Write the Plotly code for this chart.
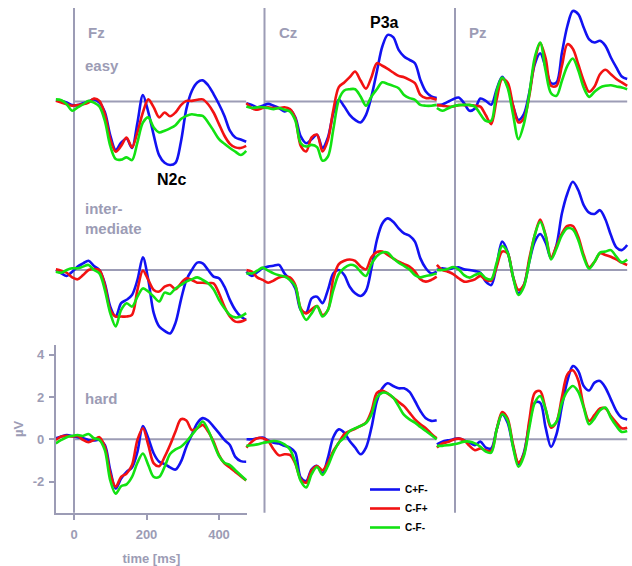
import plotly.graph_objects as go

# ---------------- data (µV) ----------------
TIME = [-50, -35, -20, -5, 10, 25, 40, 55, 70, 85, 100, 115, 130, 145, 160, 175, 190, 205,
        220, 235, 250, 265, 280, 295, 310, 325, 340, 355, 370, 385, 400, 415, 430, 445, 460, 475]

CONDITIONS = ["C+F-", "C-F+", "C-F-"]
ELECTRODES = ["Fz", "Cz", "Pz"]
LEVELS = ["easy", "inter-<br>mediate", "hard"]

FZ_EASY_B = [0.06,0.03,-0.05,-0.17,-0.17,-0.08,0.0,0.1,-0.05,-0.5,-1.6,-2.3,-1.95,-1.75,-2.2,-1.0,0.3,-0.5,-1.6,-2.55,-2.9,-3.0,-2.9,-1.9,-0.35,0.5,0.9,1.0,0.77,0.35,-0.13,-0.68,-1.38,-1.7,-1.8,-1.9]
FZ_EASY_R = [0.03,-0.05,-0.13,-0.2,-0.17,-0.13,-0.05,0.14,0.03,-0.6,-1.78,-2.37,-2.1,-1.7,-2.17,-1.45,-0.52,0.1,-0.28,-0.75,-0.52,-0.7,-0.52,-0.17,0.03,0.03,0.08,0.1,-0.13,-0.52,-1.07,-1.62,-2.0,-2.17,-2.2,-2.1]
FZ_EASY_G = [0.1,0.06,-0.13,-0.44,-0.28,-0.13,0.03,-0.05,-0.24,-0.91,-2.1,-2.72,-2.75,-2.64,-2.77,-1.93,-1.0,-0.75,-1.23,-1.46,-1.38,-1.27,-1.12,-0.83,-0.68,-0.6,-0.65,-0.68,-0.99,-1.38,-1.78,-2.0,-2.2,-2.37,-2.53,-2.33]

FZ_INT_B = [0.0,-0.16,-0.28,-0.08,0.16,0.31,0.44,0.19,0.0,-0.63,-1.73,-2.2,-1.57,-1.41,-1.18,-0.47,0.6,-0.47,-2.04,-2.67,-2.88,-3.0,-2.5,-1.41,-0.47,0.0,0.35,0.31,0.0,-0.31,-0.39,-0.79,-1.41,-1.89,-2.2,-2.36]
FZ_INT_R = [0.03,-0.03,-0.13,-0.35,-0.44,-0.24,0.0,0.05,0.0,-0.71,-1.89,-2.2,-2.2,-2.2,-2.12,-0.94,-0.03,-0.47,-0.94,-1.02,-0.79,-0.71,-0.91,-0.63,-0.39,-0.47,-0.6,-0.6,-0.63,-0.63,-1.1,-1.73,-2.2,-2.44,-2.44,-2.33]
FZ_INT_G = [-0.08,-0.13,0.0,0.08,0.08,0.16,0.24,0.0,-0.16,-0.94,-2.04,-2.67,-1.89,-1.57,-1.73,-1.26,-0.87,-1.02,-1.26,-1.49,-1.07,-1.13,-0.87,-0.71,-0.55,-0.44,-0.35,-0.47,-0.63,-0.91,-1.41,-1.81,-2.13,-2.24,-2.2,-2.04]

FZ_HARD_B = [0.05,0.13,0.2,0.16,0.1,0.05,-0.03,-0.06,-0.03,-0.27,-1.46,-2.33,-1.86,-1.54,-1.33,-0.59,0.63,0.05,-0.67,-1.06,-1.17,-1.33,-1.43,-1.06,-0.35,0.21,0.76,1.0,0.89,0.6,0.29,-0.03,-0.27,-0.83,-1.03,-1.06]
FZ_HARD_R = [-0.03,0.13,0.16,0.13,0.16,-0.03,-0.14,-0.03,0.1,-0.35,-1.62,-2.25,-1.78,-1.62,-1.22,-0.03,0.52,-0.27,-1.14,-1.27,-0.83,-0.27,0.37,0.95,0.89,0.44,0.52,0.68,0.37,-0.11,-0.75,-1.14,-1.33,-1.54,-1.75,-1.94]
FZ_HARD_G = [-0.19,-0.03,0.1,0.16,0.2,0.16,0.25,0.05,-0.03,-0.51,-1.94,-2.57,-2.22,-2.13,-1.78,-1.11,-0.67,-1.22,-1.78,-1.78,-1.3,-0.7,-0.48,-0.35,-0.11,0.21,0.52,0.84,0.44,-0.19,-0.79,-1.11,-1.22,-1.46,-1.7,-1.94]

CZ_EASY_B = [-0.08,-0.16,-0.27,-0.2,-0.11,-0.2,-0.31,-0.47,-0.39,-0.75,-1.65,-1.97,-1.78,-1.57,-2.2,-1.7,-0.55,0.08,-0.24,-0.63,-0.87,-0.99,-0.63,0.24,1.42,2.6,3.15,3.04,2.44,2.13,1.97,1.81,1.02,0.47,0.24,0.16]
CZ_EASY_R = [-0.08,-0.31,-0.39,-0.31,-0.27,-0.31,-0.31,-0.27,-0.36,-0.8,-2.1,-2.36,-1.7,-1.57,-2.36,-1.81,-0.39,0.68,0.9,1.15,1.42,0.99,0.61,1.15,1.81,1.69,1.54,1.37,1.21,1.15,1.02,0.87,0.31,0.16,0.16,0.08]
CZ_EASY_G = [-0.24,-0.31,-0.27,-0.27,-0.31,-0.36,-0.31,-0.39,-0.47,-0.9,-1.97,-2.13,-2.05,-2.16,-2.8,-2.6,-1.3,0.08,0.52,0.58,0.58,0.24,-0.2,0.24,0.58,0.91,0.83,0.74,0.63,0.31,0.16,0.08,-0.16,-0.2,-0.2,-0.16]

CZ_INT_B = [-0.08,-0.28,-0.1,0.08,0.16,0.2,0.24,-0.16,-0.45,-0.87,-1.89,-2.02,-1.34,-1.26,-1.57,-0.94,-0.16,0.0,-0.24,-0.79,-1.1,-1.23,-0.98,0.08,1.42,2.2,2.44,2.28,1.97,1.73,1.62,1.34,0.55,0.08,-0.16,-0.08]
CZ_INT_R = [0.0,-0.08,-0.35,-0.47,-0.6,-0.5,-0.35,-0.31,-0.35,-0.71,-1.81,-2.05,-1.86,-1.7,-2.13,-1.89,-0.39,0.28,0.44,0.5,0.43,0.16,0.03,0.6,0.85,0.87,0.71,0.55,0.39,0.28,0.16,-0.08,-0.44,-0.55,-0.47,-0.31]
CZ_INT_G = [-0.16,-0.16,-0.03,0.11,-0.03,-0.16,-0.25,-0.31,-0.47,-0.76,-1.89,-2.36,-2.05,-1.7,-2.2,-1.89,-0.94,-0.19,0.09,0.24,0.19,-0.08,-0.28,0.28,0.66,0.83,0.82,0.55,0.35,0.19,0.03,-0.24,-0.35,-0.28,-0.24,-0.16]

CZ_HARD_B = [0.0,0.0,0.05,0.08,-0.05,-0.16,-0.2,-0.31,-0.39,-0.63,-1.81,-1.97,-1.42,-1.26,-1.62,-0.87,0.11,0.47,0.31,-0.08,-0.39,-0.71,-0.39,0.55,1.81,2.41,2.65,2.52,2.41,2.41,2.24,1.81,1.34,0.99,0.87,0.9]
CZ_HARD_R = [-0.39,-0.11,0.05,0.05,-0.08,-0.47,-0.76,-0.71,-0.74,-1.15,-1.89,-2.05,-1.46,-1.26,-1.46,-1.1,-0.55,-0.16,0.24,0.39,0.5,0.63,0.79,1.34,2.2,2.31,2.16,1.97,1.76,1.57,1.26,0.94,0.71,0.52,0.27,0.05]
CZ_HARD_G = [-0.31,-0.28,-0.24,-0.17,-0.13,-0.08,-0.11,-0.24,-0.47,-1.1,-1.97,-2.28,-1.65,-1.31,-1.68,-1.26,-0.63,-0.16,0.08,0.39,0.52,0.63,0.77,1.18,1.97,2.2,2.17,1.97,1.57,1.15,0.94,0.79,0.58,0.39,0.2,0.0]

PZ_EASY_B = [-0.17,-0.14,-0.02,0.11,0.19,-0.08,-0.44,-0.33,0.14,0.03,-0.15,0.58,1.17,0.74,-0.2,-0.87,-0.6,0.43,1.76,2.28,1.61,0.87,0.9,2.31,3.57,4.28,4.13,3.5,2.94,2.79,2.87,2.63,2.08,1.61,1.18,1.06]
PZ_EASY_R = [-0.17,-0.2,-0.24,-0.24,-0.17,-0.17,-0.17,-0.2,-0.24,-0.65,-1.07,0.11,1.06,0.9,-0.17,-0.99,-0.8,0.27,1.92,2.76,2.04,0.74,0.74,1.69,2.71,2.5,1.76,0.98,0.46,0.71,1.29,1.5,1.29,1.06,0.9,0.74]
PZ_EASY_G = [-0.31,-0.44,-0.33,-0.22,-0.17,-0.16,-0.16,-0.24,-0.6,-0.91,-0.91,0.5,1.13,0.66,-0.6,-1.78,-1.07,0.35,2.08,2.79,1.45,0.39,0.27,0.98,1.69,2.03,1.48,0.66,0.22,0.46,0.66,0.74,0.77,0.71,0.66,0.58]

PZ_INT_B = [0.0,0.08,0.03,0.09,0.13,0.03,0.0,-0.05,-0.13,-0.55,-0.71,0.24,1.34,0.87,-0.31,-1.1,-0.71,0.39,1.34,1.7,1.29,0.55,1.18,2.68,3.62,4.17,3.78,3.07,2.71,2.65,2.83,2.39,1.65,1.07,0.94,1.18]
PZ_INT_R = [0.24,0.0,-0.08,-0.19,-0.39,-0.55,-0.52,-0.44,-0.28,-0.47,-0.5,0.16,0.87,0.79,-0.31,-0.94,-0.71,0.55,1.65,2.39,1.65,0.6,1.13,1.73,2.08,2.08,1.57,0.71,0.13,0.39,0.79,0.71,0.63,0.5,0.35,0.24]
PZ_INT_G = [0.0,0.0,0.05,0.14,0.03,-0.24,-0.36,-0.24,-0.16,-0.39,-0.44,0.35,1.13,0.82,-0.31,-1.18,-0.79,0.39,1.65,2.28,1.61,0.5,1.02,1.65,1.97,1.92,1.42,0.6,0.06,0.39,0.82,0.87,0.94,0.63,0.36,0.5]

PZ_HARD_B = [-0.24,-0.11,-0.05,0.0,0.05,-0.05,-0.16,-0.28,-0.11,-0.39,-0.43,0.47,1.18,0.79,-0.31,-1.18,-0.63,0.71,1.73,1.73,0.55,-0.36,0.24,1.57,2.76,3.46,3.23,2.52,2.31,2.68,2.76,2.44,1.89,1.34,1.02,0.94]
PZ_HARD_R = [-0.39,-0.2,-0.13,-0.02,0.03,-0.05,-0.31,-0.52,-0.43,-0.52,-0.55,0.47,1.29,0.99,-0.24,-1.1,-0.71,0.9,2.2,2.28,1.42,0.55,0.82,2.0,3.07,3.26,2.79,1.57,0.87,1.15,1.46,1.46,1.1,0.79,0.52,0.55]
PZ_HARD_G = [-0.31,-0.31,-0.28,-0.24,-0.19,-0.11,-0.11,-0.19,-0.35,-0.58,-0.63,0.47,1.18,0.9,-0.36,-1.3,-0.79,0.55,1.73,2.05,1.42,0.63,0.83,1.73,2.28,2.52,2.25,1.5,0.71,0.99,1.37,1.5,1.02,0.63,0.35,0.39]

Y_TICKS = [-2, 0, 2, 4]
Y_TICK_TEXT = ["-2", "0", "2", "4"]
X_TICKS = [0, 200, 400]

PANELS = {
    (0, 0): [FZ_EASY_B, FZ_EASY_R, FZ_EASY_G],
    (0, 1): [CZ_EASY_B, CZ_EASY_R, CZ_EASY_G],
    (0, 2): [PZ_EASY_B, PZ_EASY_R, PZ_EASY_G],
    (1, 0): [FZ_INT_B, FZ_INT_R, FZ_INT_G],
    (1, 1): [CZ_INT_B, CZ_INT_R, CZ_INT_G],
    (1, 2): [PZ_INT_B, PZ_INT_R, PZ_INT_G],
    (2, 0): [FZ_HARD_B, FZ_HARD_R, FZ_HARD_G],
    (2, 1): [CZ_HARD_B, CZ_HARD_R, CZ_HARD_G],
    (2, 2): [PZ_HARD_B, PZ_HARD_R, PZ_HARD_G],
}

# ---------------- layout geometry / style ----------------
W, H = 632, 566
T0_PX = [74.0, 264.5, 455.0]      # pixel x of t = 0 in each column
ZERO_PX = [101.5, 270.0, 439.3]   # pixel y of 0 µV in each row
PX_MS = 0.3625
PX_UV = 21.15
T_END = 475
FZ_AX_T = [-50, 476.9]
FZ_AX_V = [-3.47, 4.46]

GRAY = "#9c9cb5"
FONT = "Liberation Sans, Arial, sans-serif"
COLORS = ["#1212f2", "#f21212", "#12e212"]
LINE_W = 2.6


def xname(c):
    return "x" if c == 0 else f"x{c + 1}"


def yname(r):
    return "y" if r == 0 else f"y{r + 1}"


fig = go.Figure()
for (r, c), series in PANELS.items():
    xa, ya = ("x4", "y4") if (r, c) == (2, 0) else (xname(c), yname(r))
    for k, vals in enumerate(series):
        fig.add_trace(go.Scatter(
            x=TIME, y=vals, xaxis=xa, yaxis=ya, mode="lines",
            line=dict(color=COLORS[k], width=LINE_W, shape="spline", smoothing=0.9),
            name=CONDITIONS[k], legendgroup=CONDITIONS[k],
            showlegend=(r, c) == (0, 0), hoverinfo="skip"))

layout = dict(
    width=W, height=H, margin=dict(l=0, r=0, t=0, b=0, autoexpand=False),
    paper_bgcolor="white", plot_bgcolor="rgba(0,0,0,0)",
    font=dict(family=FONT, color=GRAY),
    showlegend=True,
    legend=dict(x=(370 - 5) / W, y=1 - 475 / H, xanchor="left", yanchor="top",
                bgcolor="rgba(0,0,0,0)", itemwidth=30, tracegroupgap=0,
                font=dict(family=FONT, size=10, color="black", weight="bold")),
)

for c in range(3):
    layout["xaxis" if c == 0 else f"xaxis{c + 1}"] = dict(
        domain=[0, 1], range=[-T0_PX[c] / PX_MS, (W - T0_PX[c]) / PX_MS],
        visible=False, anchor="y", fixedrange=True)
for r in range(3):
    layout["yaxis" if r == 0 else f"yaxis{r + 1}"] = dict(
        domain=[0, 1], range=[-(H - ZERO_PX[r]) / PX_UV, ZERO_PX[r] / PX_UV],
        visible=False, anchor="x", fixedrange=True)

axis_style = dict(showline=True, linecolor=GRAY, linewidth=2, ticks="outside",
                  ticklen=5, tickwidth=2, tickcolor=GRAY, showgrid=False,
                  zeroline=False, fixedrange=True,
                  tickfont=dict(family=FONT, size=13, color=GRAY, weight="bold"))
layout["xaxis4"] = dict(
    domain=[(T0_PX[0] + FZ_AX_T[0] * PX_MS) / W, (T0_PX[0] + FZ_AX_T[1] * PX_MS) / W],
    range=FZ_AX_T, anchor="y4", tickvals=X_TICKS, ticklabelstandoff=4,
    title=dict(text="time [ms]", standoff=13,
               font=dict(family=FONT, size=13, color=GRAY, weight="bold")),
    **axis_style)
layout["yaxis4"] = dict(
    domain=[1 - (ZERO_PX[2] - FZ_AX_V[0] * PX_UV) / H, 1 - (ZERO_PX[2] - FZ_AX_V[1] * PX_UV) / H],
    range=FZ_AX_V, anchor="x4", tickvals=Y_TICKS, ticktext=Y_TICK_TEXT, ticklabelstandoff=2,
    title=dict(text="µV", standoff=6,
               font=dict(family=FONT, size=13, color=GRAY, weight="bold")),
    **axis_style)
fig.update_layout(**layout)

# time-zero verticals and zero-voltage baselines
shapes = []
for c in range(3):
    shapes.append(dict(type="line", xref=xname(c), yref="paper", x0=0, x1=0,
                       y0=1 - 512.7 / H, y1=1 - 8 / H, layer="below",
                       line=dict(color=GRAY, width=2)))
    for r in range(3):
        shapes.append(dict(type="line", xref=xname(c), yref=yname(r), x0=0, x1=T_END,
                           y0=0, y1=0, layer="below", line=dict(color=GRAY, width=2)))
fig.update_layout(shapes=shapes)

ann = []
for c, name in enumerate(ELECTRODES):
    ann.append(dict(text=f"<b>{name}</b>", xref=xname(c), yref="paper", x=34, y=1 - 33 / H,
                    xanchor="left", yanchor="middle", showarrow=False,
                    font=dict(family=FONT, size=15, color=GRAY)))
LEVEL_Y = [66, 218, 398.5]
for r, lvl in enumerate(LEVELS):
    ann.append(dict(text=f"<b>{lvl}</b>", xref="x", yref="paper", x=25, y=1 - LEVEL_Y[r] / H,
                    xanchor="left", yanchor="middle", align="left", showarrow=False,
                    font=dict(family=FONT, size=15, color=GRAY)))
ann.append(dict(text="<b>N2c</b>", xref="x", yref="y", x=269, y=-3.71, showarrow=False,
                font=dict(family=FONT, size=16, color="black")))
ann.append(dict(text="<b>P3a</b>", xref="x2", yref="y", x=330, y=3.74, showarrow=False,
                font=dict(family=FONT, size=16, color="black")))
fig.update_layout(annotations=ann)

fig.write_html("out.html", config={"displayModeBar": False},
               post_script="document.body.style.margin='0px';")
